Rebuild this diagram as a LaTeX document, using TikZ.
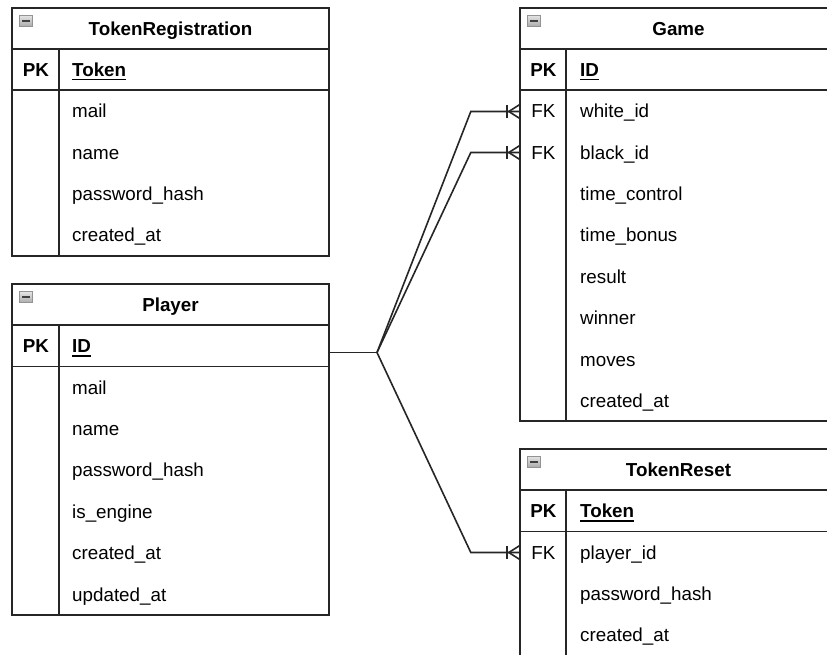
\documentclass[tikz,border=0pt]{standalone}
\usepackage{fontspec}
\setmainfont{Liberation Sans}
\newcommand\fsz{\fontsize{18.8}{22}\selectfont}
% bold, underlined primary key name
\newcommand\keyfield[1]{\leavevmode\setbox0=\hbox{\bfseries #1}\rlap{\raisebox{-3.8pt}{\rule{\wd0}{1.6pt}}}\box0}
\tikzset{
  tbl/.style={draw=black!85, line width=1.7pt, rectangle, inner sep=0pt,
    minimum width=317, fill=white, font=\fsz, text height=14, text depth=0},
  rowbox/.style={rectangle, inner sep=0pt, minimum width=317, minimum height=41.4},
  fld/.style={inner sep=0pt, anchor=west, font=\fsz, text height=14, text depth=0},
  keyl/.style={inner sep=0pt, font=\fsz, text height=14, text depth=0},
  divider/.style={draw=black!85, line width=1.7pt},
  conn/.style={draw=black!85, line width=1.6pt},
  icon/.style={rectangle, minimum width=13, minimum height=11, inner sep=0pt,
    draw=gray!85, line width=1pt, top color=gray!20, bottom color=gray!65,
    path picture={\draw[line width=2pt, black!75]
      ([xshift=2.8]path picture bounding box.west) --
      ([xshift=-2.8]path picture bounding box.east);}},
  crowfoot/.pic={
    \draw[conn] (-13,-6.5) -- (-13,6.5);
    \draw[conn] (0,-7) -- (-11,0) -- (0,7);
  }
}
\begin{document}
\begin{tikzpicture}[x=1pt,y=-1pt]
\useasboundingbox (0,0) rectangle (827,654);
\fill[white] (0,0) rectangle (827,654);
\clip (0,0) rectangle (827,654);

% ---------------- TokenRegistration ----------------
\node[tbl, minimum height=41] (trHead) at (170.5,28.5) {\bfseries TokenRegistration};
\node[tbl, minimum height=41] (trPK) at (170.5,69.5) {};
\node[tbl, minimum height=166] (trBody) at (170.5,173) {};
\draw[divider] ([xshift=48]trPK.north west) -- ([xshift=48]trBody.south west);
\node[icon] (trIcon) at (26,20.5) {};
\node[keyl] (trPKl) at (36,69.5) {\bfseries PK};
\node[fld] (trToken) at (72,69.5) {\keyfield{Token}};
\node[fld] (trMail) at (72,110.7) {mail};
\node[fld] (trName) at (72,152.1) {name};
\node[fld] (trPass) at (72,193.5) {password\_hash};
\node[fld] (trCreated) at (72,234.9) {created\_at};

% ---------------- Player ----------------
\node[tbl, minimum height=41] (pHead) at (170.5,304.5) {\bfseries Player};
\node[tbl, minimum height=41.4] (pPK) at (170.5,345.7) {};
\node[tbl, minimum height=248.4] (pBody) at (170.5,490.6) {};
\draw[divider] ([xshift=48]pPK.north west) -- ([xshift=48]pBody.south west);
\node[icon] (pIcon) at (26,297) {};
\node[keyl] (pPKl) at (36,345.7) {\bfseries PK};
\node[fld] (pID) at (72,345.7) {\keyfield{ID}};
\node[fld] (pMail) at (72,387.1) {mail};
\node[fld] (pName) at (72,428.5) {name};
\node[fld] (pPass) at (72,469.9) {password\_hash};
\node[fld] (pEngine) at (72,511.3) {is\_engine};
\node[fld] (pCreated) at (72,552.7) {created\_at};
\node[fld] (pUpdated) at (72,594.1) {updated\_at};

% ---------------- Game ----------------
\node[tbl, minimum height=41] (gHead) at (678.5,28.5) {\bfseries Game};
\node[tbl, minimum height=41] (gPK) at (678.5,69.5) {};
\node[tbl, minimum height=331.2] (gBody) at (678.5,255.6) {};
\draw[divider] ([xshift=47]gPK.north west) -- ([xshift=47]gBody.south west);
\node[icon] (gIcon) at (534,20.5) {};
\node[keyl] (gPKl) at (543.5,69.5) {\bfseries PK};
\node[fld] (gID) at (580,69.5) {\keyfield{ID}};
\node[rowbox] (gWhite) at (678.5,111.5) {};
\node[rowbox] (gBlack) at (678.5,152.5) {};
\node[keyl] (gFK1) at (543.5,110.7) {FK};
\node[keyl] (gFK2) at (543.5,152.1) {FK};
\node[fld] (gWhiteT) at (580,110.7) {white\_id};
\node[fld] (gBlackT) at (580,152.1) {black\_id};
\node[fld] (gTC) at (580,193.5) {time\_control};
\node[fld] (gTB) at (580,234.9) {time\_bonus};
\node[fld] (gRes) at (580,276.3) {result};
\node[fld] (gWin) at (580,317.7) {winner};
\node[fld] (gMoves) at (580,359.1) {moves};
\node[fld] (gCreated) at (580,400.5) {created\_at};

% ---------------- TokenReset ----------------
\node[tbl, minimum height=41] (rHead) at (678.5,469.5) {\bfseries TokenReset};
\node[tbl, minimum height=41.4] (rPK) at (678.5,510.7) {};
\node[tbl, minimum height=140] (rBody) at (678.5,601.4) {};
\draw[divider] ([xshift=47]rPK.north west) -- ([xshift=47]rBody.south west);
\node[icon] (rIcon) at (534,461.5) {};
\node[keyl] (rPKl) at (543.5,510.7) {\bfseries PK};
\node[fld] (rToken) at (580,510.7) {\keyfield{Token}};
\node[rowbox] (rPlayer) at (678.5,552.5) {};
\node[keyl] (rFK) at (543.5,552.1) {FK};
\node[fld] (rPlayerT) at (580,552.1) {player\_id};
\node[fld] (rPass) at (580,593.5) {password\_hash};
\node[fld] (rCreated) at (580,634.9) {created\_at};

% ---------------- relations ----------------
\coordinate (hub) at (377,352.5);
\draw[conn] (hub -| pPK.east) -- (hub);
\draw[conn] (hub) -- ([xshift=-49]gWhite.west) -- (gWhite.west);
\draw[conn] (hub) -- ([xshift=-49]gBlack.west) -- (gBlack.west);
\draw[conn] (hub) -- ([xshift=-49]rPlayer.west) -- (rPlayer.west);
\pic at (gWhite.west) {crowfoot};
\pic at (gBlack.west) {crowfoot};
\pic at (rPlayer.west) {crowfoot};
\end{tikzpicture}
\end{document}
